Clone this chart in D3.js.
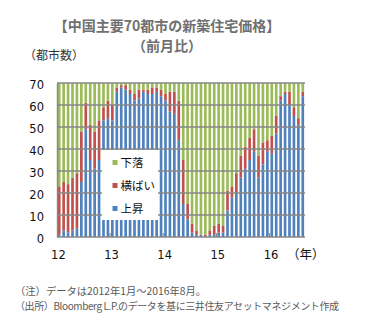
<!DOCTYPE html>
<html>
<head>
<meta charset="utf-8">
<script src="https://cdn.jsdelivr.net/npm/d3@7"></script>
<style>
  html, body { margin: 0; padding: 0; background: #fff; }
  svg { display: block; font-family: "Noto Sans CJK JP", "Noto Sans", sans-serif; }
</style>
</head>
<body>
<svg id="chart" width="366" height="334"></svg>
<script>
// ---- data (monthly, Jan 2012 – Aug 2016) ----
const months = [
  "2012-01","2012-02","2012-03","2012-04","2012-05","2012-06","2012-07","2012-08","2012-09","2012-10","2012-11","2012-12",
  "2013-01","2013-02","2013-03","2013-04","2013-05","2013-06","2013-07","2013-08","2013-09","2013-10","2013-11","2013-12",
  "2014-01","2014-02","2014-03","2014-04","2014-05","2014-06","2014-07","2014-08","2014-09","2014-10","2014-11","2014-12",
  "2015-01","2015-02","2015-03","2015-04","2015-05","2015-06","2015-07","2015-08","2015-09","2015-10","2015-11","2015-12",
  "2016-01","2016-02","2016-03","2016-04","2016-05","2016-06","2016-07","2016-08"
];
const rise = [
  1,3,2,3,4,25,49,35,31,35,53,54,
  53,66,68,67,65,62,63,66,65,65,66,64,
  62,57,56,44,15,8,2,1,1,0,1,1,
  2,2,12,18,20,27,31,35,39,27,33,39,
  38,47,62,65,60,55,51,64
];
const flat = [
  22,22,22,24,25,23,12,16,17,18,6,8,
  7,2,1,2,2,3,4,1,2,3,2,3,
  3,9,10,18,20,7,4,2,0,1,2,4,
  4,3,9,5,9,10,10,10,10,10,10,5,
  8,8,2,1,6,4,3,2
];
const fall = [
  47,45,46,43,41,22,9,19,22,17,11,8,
  10,2,1,1,3,5,3,3,3,2,2,3,
  5,4,4,8,35,55,64,67,69,69,67,65,
  64,65,49,47,41,33,29,25,21,33,27,26,
  24,15,6,4,4,11,16,4
];
const seriesNames = ["上昇", "横ばい", "下落"];
const seriesColors = ["#4F81BD", "#C0504D", "#9BBB59"];
const legendOrder = ["下落", "横ばい", "上昇"];
const yTicks = [0, 10, 20, 30, 40, 50, 60, 70];
const yearStarts = ["2012-01", "2013-01", "2014-01", "2015-01", "2016-01"];
const yearLabels = ["12", "13", "14", "15", "16"];

const titleLine1 = "【中国主要70都市の新築住宅価格】";
const titleLine2 = "（前月比）";
const yUnit = "（都市数）";
const xUnit = "（年）";
const note1 = "（注）データは2012年1月～2016年8月。";
const note2 = "（出所）Bloomberg L.P.のデータを基に三井住友アセットマネジメント作成";

// ---- build ----
const table = months.map((m, i) => ({ month: m, "上昇": rise[i], "横ばい": flat[i], "下落": fall[i] }));
const stacked = d3.stack().keys(seriesNames)(table);
const color = d3.scaleOrdinal().domain(seriesNames).range(seriesColors);

const svg = d3.select("#chart");
const plotL = 57, plotR = 305, plotT = 83, plotB = 237;

const x = d3.scaleBand().domain(months).range([plotL, plotR]).paddingInner(0.4).paddingOuter(0.2);
const y = d3.scaleLinear().domain([0, 70]).range([plotB, plotT]);

// title
svg.append("text").attr("x", 167).attr("y", 30.5).attr("text-anchor", "middle")
  .attr("font-size", 14).attr("font-weight", "bold").attr("fill", "#707070").text(titleLine1);
svg.append("text").attr("x", 167).attr("y", 51).attr("text-anchor", "middle")
  .attr("font-size", 14).attr("font-weight", "bold").attr("fill", "#707070").text(titleLine2);

svg.append("text").attr("x", 24).attr("y", 60)
  .attr("font-size", 12).attr("fill", "#333").text(yUnit);

// bars
svg.append("g").selectAll("g").data(stacked).join("g")
  .attr("fill", d => color(d.key))
  .selectAll("rect").data(d => d).join("rect")
  .attr("x", d => x(d.data.month))
  .attr("width", x.bandwidth())
  .attr("y", d => y(d[1]))
  .attr("height", d => y(d[0]) - y(d[1]));

// gridlines
svg.append("g").selectAll("line").data(yTicks.filter(t => t > 0)).join("line")
  .attr("x1", plotL).attr("x2", plotR)
  .attr("y1", d => y(d)).attr("y2", d => y(d))
  .attr("stroke", "#878787").attr("stroke-width", 1.4);

// y axis
const yAxis = d3.axisLeft(y).tickValues(yTicks).tickSize(0).tickPadding(13);
const gy = svg.append("g").attr("transform", `translate(${plotL},0)`).call(yAxis);
gy.select(".domain").attr("stroke", "#878787").attr("stroke-width", 1.4);
gy.selectAll("text").attr("fill", "#111").attr("dy", "0.45em")
  .attr("font-family", "'DejaVu Sans', sans-serif").attr("font-size", 11.5);

// x axis
const gx = svg.append("g").attr("transform", `translate(0,${plotB})`);
gx.append("line").attr("x1", plotL).attr("x2", plotR).attr("stroke", "#878787").attr("stroke-width", 1.6);
gx.selectAll("line.tk").data(yearStarts.slice(1)).join("line").attr("class", "tk")
  .attr("x1", d => x(d) - x.step() * x.paddingInner() / 2).attr("x2", d => x(d) - x.step() * x.paddingInner() / 2)
  .attr("y1", 0).attr("y2", -4).attr("stroke", "#878787").attr("stroke-width", 1);
gx.selectAll("text.yl").data(yearStarts).join("text").attr("class", "yl")
  .attr("x", d => x(d) + 0.5).attr("y", 21.5).attr("text-anchor", "middle")
  .attr("font-size", 11.5).attr("font-family", "'DejaVu Sans', sans-serif").attr("fill", "#111")
  .text((d, i) => yearLabels[i]);
svg.append("text").attr("x", 287).attr("y", 258.5).attr("font-size", 12.5).attr("fill", "#111").text(xUnit);

// legend
const lg = svg.append("g");
lg.append("rect").attr("x", 102).attr("y", 150).attr("width", 56).attr("height", 70).attr("fill", "#fff");
legendOrder.forEach((name, i) => {
  const cy = 162.5 + i * 23;
  lg.append("rect").attr("x", 112.5).attr("y", cy - 2.5).attr("width", 5).attr("height", 5).attr("fill", color(name));
  lg.append("text").attr("x", 120.5).attr("y", cy + 4.3).attr("font-size", 11.5).attr("fill", "#111").text(name);
});

// notes
svg.append("text").attr("x", 15).attr("y", 295).attr("font-size", 10.3).attr("fill", "#595959").text(note1);
svg.append("text").attr("x", 15).attr("y", 309.5).attr("font-size", 10).attr("fill", "#595959")
  .attr("letter-spacing", "-0.4").text(note2);
</script>
</body>
</html>
